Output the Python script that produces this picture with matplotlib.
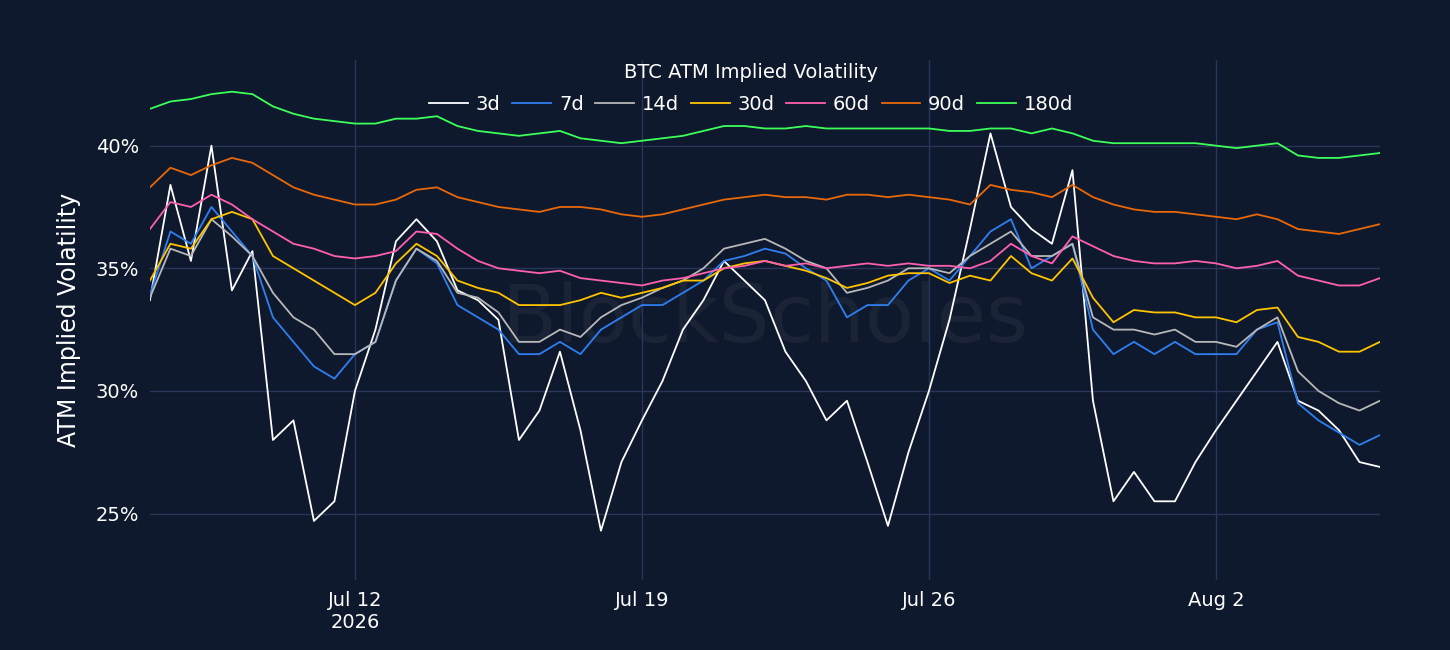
import numpy as np
import pandas as pd
import matplotlib
matplotlib.use("Agg")
import matplotlib.pyplot as plt
import matplotlib.dates as mdates

# 12-hourly samples from 2026-07-07 00:00
times = pd.date_range("2026-07-07", periods=61, freq="12h")

vol_3d = [33.7, 38.4, 35.3, 40.0, 34.1, 35.7, 28.0, 28.8, 24.7, 25.5, 30.0, 32.5, 36.1, 37.0, 36.1, 34.1,
          33.7, 32.9, 28.0, 29.2, 31.6, 28.4, 24.3, 27.1, 28.8, 30.4, 32.5, 33.7, 35.3, 34.5, 33.7, 31.6,
          30.4, 28.8, 29.6, 27.1, 24.5, 27.5, 30.0, 32.9, 36.6, 40.5, 37.5, 36.6, 36.0, 39.0, 29.6, 25.5,
          26.7, 25.5, 25.5, 27.1, 28.4, 29.6, 30.8, 32.0, 29.6, 29.2, 28.4, 27.1, 26.9]
vol_7d = [33.9, 36.5, 36.0, 37.5, 36.5, 35.5, 33.0, 32.0, 31.0, 30.5, 31.5, 32.0, 34.5, 35.8, 35.2, 33.5,
          33.0, 32.5, 31.5, 31.5, 32.0, 31.5, 32.5, 33.0, 33.5, 33.5, 34.0, 34.5, 35.3, 35.5, 35.8, 35.6,
          35.0, 34.5, 33.0, 33.5, 33.5, 34.5, 35.0, 34.5, 35.5, 36.5, 37.0, 35.0, 35.5, 36.0, 32.5, 31.5,
          32.0, 31.5, 32.0, 31.5, 31.5, 31.5, 32.5, 32.8, 29.5, 28.8, 28.3, 27.8, 28.2]
vol_14d = [33.8, 35.8, 35.5, 37.0, 36.3, 35.5, 34.0, 33.0, 32.5, 31.5, 31.5, 32.0, 34.5, 35.8, 35.3, 34.0,
           33.8, 33.2, 32.0, 32.0, 32.5, 32.2, 33.0, 33.5, 33.8, 34.2, 34.5, 35.0, 35.8, 36.0, 36.2, 35.8,
           35.3, 35.0, 34.0, 34.2, 34.5, 35.0, 35.0, 34.8, 35.5, 36.0, 36.5, 35.5, 35.5, 36.0, 33.0, 32.5,
           32.5, 32.3, 32.5, 32.0, 32.0, 31.8, 32.5, 33.0, 30.8, 30.0, 29.5, 29.2, 29.6]
vol_30d = [34.5, 36.0, 35.8, 37.0, 37.3, 37.0, 35.5, 35.0, 34.5, 34.0, 33.5, 34.0, 35.2, 36.0, 35.5, 34.5,
           34.2, 34.0, 33.5, 33.5, 33.5, 33.7, 34.0, 33.8, 34.0, 34.2, 34.5, 34.5, 35.0, 35.2, 35.3, 35.1,
           34.9, 34.6, 34.2, 34.4, 34.7, 34.8, 34.8, 34.4, 34.7, 34.5, 35.5, 34.8, 34.5, 35.4, 33.8, 32.8,
           33.3, 33.2, 33.2, 33.0, 33.0, 32.8, 33.3, 33.4, 32.2, 32.0, 31.6, 31.6, 32.0]
vol_60d = [36.6, 37.7, 37.5, 38.0, 37.6, 37.0, 36.5, 36.0, 35.8, 35.5, 35.4, 35.5, 35.7, 36.5, 36.4, 35.8,
           35.3, 35.0, 34.9, 34.8, 34.9, 34.6, 34.5, 34.4, 34.3, 34.5, 34.6, 34.8, 35.0, 35.1, 35.3, 35.1,
           35.2, 35.0, 35.1, 35.2, 35.1, 35.2, 35.1, 35.1, 35.0, 35.3, 36.0, 35.5, 35.2, 36.3, 35.9, 35.5,
           35.3, 35.2, 35.2, 35.3, 35.2, 35.0, 35.1, 35.3, 34.7, 34.5, 34.3, 34.3, 34.6]
vol_90d = [38.3, 39.1, 38.8, 39.2, 39.5, 39.3, 38.8, 38.3, 38.0, 37.8, 37.6, 37.6, 37.8, 38.2, 38.3, 37.9,
           37.7, 37.5, 37.4, 37.3, 37.5, 37.5, 37.4, 37.2, 37.1, 37.2, 37.4, 37.6, 37.8, 37.9, 38.0, 37.9,
           37.9, 37.8, 38.0, 38.0, 37.9, 38.0, 37.9, 37.8, 37.6, 38.4, 38.2, 38.1, 37.9, 38.4, 37.9, 37.6,
           37.4, 37.3, 37.3, 37.2, 37.1, 37.0, 37.2, 37.0, 36.6, 36.5, 36.4, 36.6, 36.8]
vol_180d = [41.5, 41.8, 41.9, 42.1, 42.2, 42.1, 41.6, 41.3, 41.1, 41.0, 40.9, 40.9, 41.1, 41.1, 41.2, 40.8,
            40.6, 40.5, 40.4, 40.5, 40.6, 40.3, 40.2, 40.1, 40.2, 40.3, 40.4, 40.6, 40.8, 40.8, 40.7, 40.7,
            40.8, 40.7, 40.7, 40.7, 40.7, 40.7, 40.7, 40.6, 40.6, 40.7, 40.7, 40.5, 40.7, 40.5, 40.2, 40.1,
            40.1, 40.1, 40.1, 40.1, 40.0, 39.9, 40.0, 40.1, 39.6, 39.5, 39.5, 39.6, 39.7]

series = [
    ("3d", vol_3d, "#ffffff"),
    ("7d", vol_7d, "#2f7ff0"),
    ("14d", vol_14d, "#b8b8b8"),
    ("30d", vol_30d, "#ffc400"),
    ("60d", vol_60d, "#ff5fb0"),
    ("90d", vol_90d, "#e8680a"),
    ("180d", vol_180d, "#3dff5a"),
]

tick_dates = pd.to_datetime(["2026-07-12", "2026-07-19", "2026-07-26", "2026-08-02"])
tick_labels = ["Jul 12\n2026", "Jul 19", "Jul 26", "Aug 2"]
y_ticks = [25, 30, 35, 40]

bg = "#0f192d"
grid = "#27365a"

fig = plt.figure(figsize=(14.5, 6.5), dpi=100, facecolor=bg)
ax = fig.add_axes([0.1034, 0.108, 0.8483, 0.80])
ax.set_facecolor(bg)

ax.text(0.5, 0.5, "BlockScholes", transform=ax.transAxes, ha="center", va="center",
        fontsize=58, color="#ffffff", alpha=0.05, zorder=0)

for name, values, color in series:
    ax.plot(times, values, color=color, lw=1.3, label=name, zorder=3)

ax.set_xlim(pd.Timestamp("2026-07-07"), pd.Timestamp("2026-08-06"))
ax.set_ylim(22.3, 43.5)
ax.set_xticks(mdates.date2num(tick_dates))
ax.set_xticklabels(tick_labels)
ax.set_yticks(y_ticks)
ax.set_yticklabels([f"{v}%" for v in y_ticks])
ax.grid(True, color=grid, lw=1)
ax.set_axisbelow(True)
for s in ax.spines.values():
    s.set_visible(False)
ax.tick_params(colors="white", labelsize=14, length=0, pad=8)
ax.set_ylabel("ATM Implied Volatility", color="white", fontsize=17, labelpad=10)

fig.text(0.518, 0.889, "BTC ATM Implied Volatility", color="white", fontsize=14, ha="center", va="center")
leg = fig.legend(loc="center", bbox_to_anchor=(0.518, 0.84), ncol=7, frameon=False,
                 fontsize=14, labelcolor="white", handlelength=2.0, columnspacing=0.6, handletextpad=0.4)

fig.savefig("out.png", facecolor=bg)
